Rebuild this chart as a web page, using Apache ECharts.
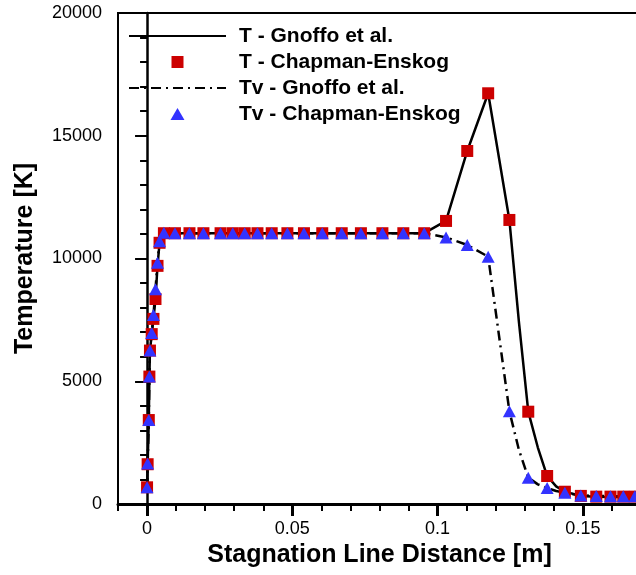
<!DOCTYPE html>
<html>
<head>
<meta charset="utf-8">
<script src="https://cdn.jsdelivr.net/npm/echarts@6/dist/echarts.min.js"></script>
<style>
html,body{margin:0;padding:0;background:#fff;}
#chart{width:636px;height:575px;}
</style>
</head>
<body>
<div id="chart"></div>
<script>
// Chapman-Enskog sample locations [m]
var ceX = [0, 0.0002, 0.0006, 0.0008, 0.0010, 0.0016, 0.0022, 0.0029, 0.0036, 0.0043, 0.0058,
  0.0096, 0.0146, 0.0194, 0.0253, 0.0295, 0.0336, 0.0380, 0.0429, 0.0483, 0.0540, 0.0603,
  0.0670, 0.0736, 0.0810, 0.0882, 0.0954, 0.1029, 0.1102, 0.1174, 0.1247, 0.1312, 0.1377,
  0.1438, 0.1493, 0.1546, 0.1595, 0.1639, 0.1679];
var ceT = [680, 1620, 3420, 5190, 6250, 6920, 7540, 8350, 9700, 10640, 11030,
  11030, 11030, 11030, 11030, 11030, 11030, 11030, 11030, 11030, 11030, 11030,
  11030, 11030, 11030, 11030, 11030, 11530, 14380, 16730, 11570, 3760, 1140,
  500, 330, 300, 300, 300, 300];
var ceTv = [680, 1650, 3420, 5190, 6250, 6970, 7700, 8750, 9830, 10700, 11050,
  11030, 11030, 11030, 11030, 11030, 11030, 11030, 11030, 11030, 11030, 11030,
  11030, 11030, 11030, 11030, 11030, 10860, 10550, 10075, 3780, 1073, 650,
  455, 350, 330, 320, 320, 320];
// Gnoffo et al. curves
var gX = [0, 0.0002, 0.0006, 0.0008, 0.0010, 0.0016, 0.0022, 0.0029, 0.0036, 0.0043, 0.0058,
  0.010, 0.020, 0.030, 0.040, 0.050, 0.060, 0.070, 0.080, 0.090, 0.0954, 0.1029, 0.1102,
  0.1174, 0.1247, 0.1280, 0.1312, 0.1345, 0.1377, 0.1408, 0.1438, 0.1493, 0.1546, 0.1600, 0.1700];
var gT = [650, 1620, 3420, 5190, 6250, 6920, 7540, 8350, 9700, 10640, 11000,
  11030, 11030, 11030, 11030, 11030, 11030, 11030, 11030, 11030, 11030, 11530, 14380,
  16730, 11570, 7400, 3760, 2300, 1140, 720, 500, 330, 300, 290, 290];
var gTv = [650, 1650, 3420, 5190, 6250, 6970, 7700, 8750, 9830, 10700, 11030,
  11030, 11030, 11030, 11030, 11030, 11030, 11030, 11030, 11030, 11030, 10860, 10550,
  10075, 3780, 2200, 1073, 800, 650, 530, 455, 350, 330, 320, 320];

var xMajorTicks = [0, 0.05, 0.1, 0.15];
var yTicks = [0, 5000, 10000, 15000, 20000];
var seriesNames = ['T - Gnoffo et al.', 'T - Chapman-Enskog', 'Tv - Gnoffo et al.', 'Tv - Chapman-Enskog'];
var xTitle = 'Stagnation Line Distance [m]';
var yTitle = 'Temperature [K]';

function pairs(xs, ys) { return xs.map(function (x, i) { return [x, ys[i]]; }); }

var FONT = 'Liberation Sans, Arial, sans-serif';
var RED = '#cc0000', BLUE = '#3333ff';
var chart = echarts.init(document.getElementById('chart'), null, {renderer: 'canvas'});
chart.setOption({
  animation: false,
  backgroundColor: '#fff',
  grid: {left: 118, top: 13, right: -5, bottom: 71, outerBoundsMode: 'none', containLabel: false,
    show: true, borderColor: '#000', borderWidth: 2, backgroundColor: 'transparent'},
  legend: {
    left: 128, top: 24, orient: 'vertical', padding: 0,
    itemWidth: 97, itemHeight: 12, itemGap: 2, symbolKeepAspect: true,
    data: [
      {name: seriesNames[0]},
      {name: seriesNames[1], icon: 'path://M0,0H10V10H0Z', itemStyle: {color: RED}},
      {name: seriesNames[2]},
      {name: seriesNames[3], icon: 'path://M5,0L10,8.6L0,8.6Z', itemStyle: {color: BLUE}}
    ],
    textStyle: {fontFamily: FONT, fontWeight: 'bold', fontSize: 21, color: '#000', lineHeight: 24, padding: [0, 0, 0, 8]}
  },
  xAxis: [{
    type: 'value', min: -0.01, max: 0.17, interval: 0.01, position: 'bottom',
    name: xTitle, nameLocation: 'middle', nameGap: 39,
    nameTextStyle: {fontFamily: FONT, fontWeight: 'bold', fontSize: 25, color: '#000'},
    axisLine: {show: true, onZero: false, lineStyle: {color: '#000', width: 3}},
    axisTick: {show: true, length: 7, lineStyle: {color: '#000', width: 2}},
    splitLine: {show: false},
    axisLabel: {
      interval: 0, margin: 16, fontFamily: FONT, fontSize: 18, color: '#000',
      formatter: function (v) {
        var r = Math.round(v * 1000) / 1000;
        for (var i = 0; i < xMajorTicks.length; i++) { if (Math.abs(r - xMajorTicks[i]) < 1e-6) return String(xMajorTicks[i]); }
        return '';
      }
    }
  }, {
    type: 'value', min: -0.01, max: 0.17, position: 'bottom', offset: 0,
    axisLine: {show: false},
    axisTick: {show: true, length: 12, customValues: xMajorTicks, lineStyle: {color: '#000', width: 3}},
    axisLabel: {show: false},
    splitLine: {show: false}
  }],
  yAxis: {
    type: 'value', min: 0, max: 20000, interval: 5000,
    name: yTitle, nameLocation: 'middle', nameGap: 80, nameRotate: 90,
    nameTextStyle: {fontFamily: FONT, fontWeight: 'bold', fontSize: 25, color: '#000'},
    axisLine: {show: true, lineStyle: {color: '#000', width: 2.5}},
    axisTick: {show: true, length: 12, lineStyle: {color: '#000', width: 2}},
    minorTick: {show: true, splitNumber: 5, length: 7, lineStyle: {color: '#000', width: 2}},
    splitLine: {show: false},
    axisLabel: {margin: 16, fontFamily: FONT, fontSize: 18, color: '#000',
      formatter: function (v) { return yTicks.indexOf(v) >= 0 ? String(v) : ''; }}
  },
  series: [{
    name: seriesNames[0], type: 'line', data: pairs(gX, gT), symbol: 'none', z: 2,
    lineStyle: {color: '#000', width: 2.5}, itemStyle: {color: 'rgba(0,0,0,0)'}
  }, {
    name: seriesNames[2], type: 'line', data: pairs(gX, gTv), symbol: 'none', z: 2,
    lineStyle: {color: '#000', width: 2.5, type: [10, 5, 2, 5]}, itemStyle: {color: 'rgba(0,0,0,0)'}
  }, {
    name: seriesNames[1], type: 'scatter', data: pairs(ceX, ceT), symbol: 'rect', symbolSize: 12, z: 3,
    itemStyle: {color: RED, opacity: 1}
  }, {
    name: seriesNames[3], type: 'scatter', data: pairs(ceX, ceTv), symbol: 'triangle', symbolSize: [13, 12], z: 4,
    itemStyle: {color: BLUE, opacity: 1}
  }]
});
</script>
</body>
</html>
